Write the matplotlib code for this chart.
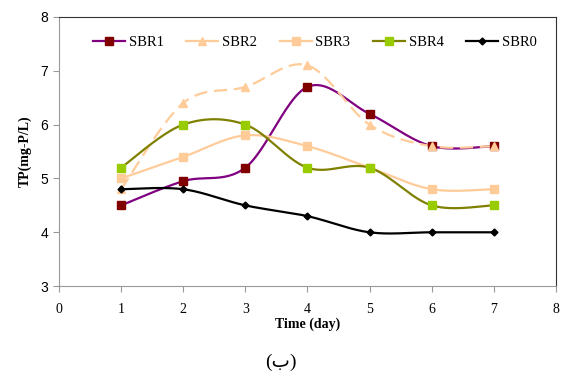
import numpy as np
import matplotlib
matplotlib.use("Agg")
import matplotlib.pyplot as plt
from matplotlib.lines import Line2D

days = [1, 2, 3, 4, 5, 6, 7]
sbr1 = [4.5, 4.95, 5.2, 6.7, 6.2, 5.6, 5.6]
sbr2 = [4.8, 6.4, 6.7, 7.1, 6.0, 5.6, 5.6]
sbr3 = [5.0, 5.4, 5.8, 5.6, 5.2, 4.8, 4.8]
sbr4 = [5.2, 6.0, 6.0, 5.2, 5.2, 4.5, 4.5]
sbr0 = [4.8, 4.8, 4.5, 4.3, 4.0, 4.0, 4.0]
labels = ["SBR1", "SBR2", "SBR3", "SBR4", "SBR0"]
xticks = [0, 1, 2, 3, 4, 5, 6, 7, 8]
yticks = [3, 4, 5, 6, 7, 8]


def smooth(x, y, n=30):
    x = np.asarray(x, float)
    y = np.asarray(y, float)
    P = np.column_stack([x, y])
    Pe = np.vstack([P[0], P, P[-1]])
    out = [P[0]]
    t = np.linspace(0, 1, n)[1:]
    for i in range(len(P) - 1):
        p0 = Pe[i + 1]
        p3 = Pe[i + 2]
        c1 = p0 + (Pe[i + 2] - Pe[i]) / 6
        c2 = p3 - (Pe[i + 3] - Pe[i + 1]) / 6
        for tt in t:
            b = ((1 - tt) ** 3) * p0 + 3 * ((1 - tt) ** 2) * tt * c1 + 3 * (1 - tt) * tt ** 2 * c2 + tt ** 3 * p3
            out.append(b)
    out = np.array(out)
    return out[:, 0], out[:, 1]


fig = plt.figure(figsize=(5.62, 3.76), dpi=100)
ax = fig.add_axes([0.105, 0.239, 0.884, 0.716])

series = [
    (sbr1, "#800080", "-", "s", "#800000", 5.2),
    (sbr2, "#FFCC99", (0, (6, 3)), "^", "#FFCC99", 5.8),
    (sbr3, "#FFCC99", "-", "s", "#FFCC99", 5.2),
    (sbr4, "#808000", "-", "s", "#99CC00", 5.2),
    (sbr0, "#000000", "-", "D", "#000000", 3.5),
]
handles = []
for (vals, lc, ls, mk, mc, ms), lab in zip(series, labels):
    sx, sy = smooth(days, vals)
    ax.plot(sx, sy, color=lc, linestyle=ls, linewidth=1.6, zorder=2)
    ax.plot(days, vals, linestyle="none", marker=mk, markersize=ms,
            markerfacecolor=mc, markeredgecolor=mc, zorder=3)
    handles.append(Line2D([0], [0], color=lc, linestyle="-", linewidth=1.6,
                          marker=mk, markersize=ms, markerfacecolor=mc, markeredgecolor=mc))

ax.set_xlim(0, 8)
ax.set_ylim(3, 8)
ax.set_xticks(xticks)
ax.set_yticks(yticks)
ax.set_xticklabels([str(v) for v in xticks], fontfamily="Liberation Serif", fontsize=10)
ax.set_yticklabels([str(v) for v in yticks], fontfamily="Liberation Sans", fontsize=10)
ax.tick_params(axis="both", direction="out", length=4, color="#999999", width=0.8)
ax.tick_params(axis="x", pad=8)
ax.tick_params(axis="y", pad=4)
for s in ["left", "bottom"]:
    ax.spines[s].set_color("#999999")
for s in ["top", "right"]:
    ax.spines[s].set_color("#333333")

ax.set_xlabel("Time (day)", fontfamily="Liberation Serif", fontweight="bold", fontsize=10, labelpad=1)
ax.set_ylabel("TP(mg-P/L)", fontfamily="Liberation Serif", fontweight="bold", fontsize=10, labelpad=6)

leg = ax.legend(handles, labels, loc="upper center", bbox_to_anchor=(0.515, 0.98), ncol=5,
                frameon=False, prop={"family": "Liberation Serif", "size": 10.5},
                handlelength=2.2, columnspacing=1.55, handletextpad=0.25)

fig.text(0.5, 0.035, "(ب)", ha="center", va="center", fontsize=14,
         family=["Liberation Serif", "DejaVu Sans"])

fig.savefig("out.png", dpi=100)
